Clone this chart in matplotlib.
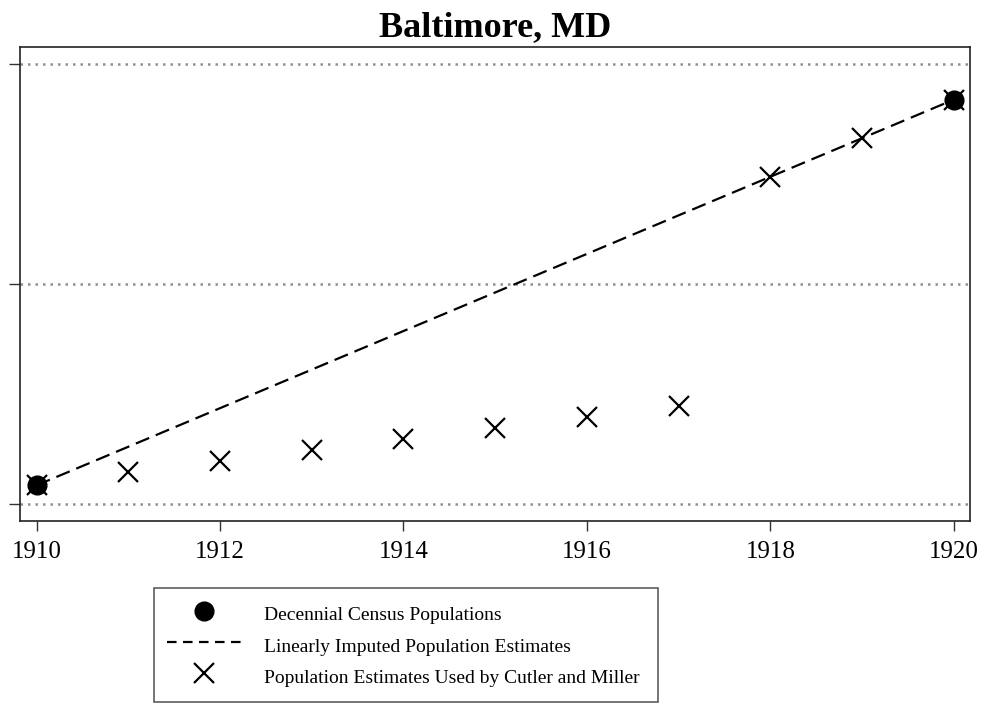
import matplotlib
matplotlib.use("Agg")
import matplotlib.pyplot as plt
from matplotlib.lines import Line2D

plt.rcParams['font.family'] = ['Liberation Serif', 'DejaVu Serif']

# census years and populations
census_years = [1910, 1920]
census_pop = [558485, 733826]

# Cutler & Miller estimates
cm_years = [1910, 1911, 1912, 1913, 1914, 1915, 1916, 1917, 1918, 1919, 1920]
cm_pop = [558485, 564400, 569700, 574700, 579600, 584500, 589700, 594700,
          698800, 716300, 733826]

x_ticks = [1910, 1912, 1914, 1916, 1918, 1920]
y_ticks = [550000, 650000, 750000]

fig = plt.figure(figsize=(9.84, 7.06), dpi=100)
ax = fig.add_axes([20/984, 1 - 521/706, 950/984, 474/706])

for y in y_ticks:
    ax.axhline(y, color="#909090", lw=1.8, ls=(0, (1.0, 2.0)), zorder=0)

ax.plot(census_years, census_pop, color="black", lw=1.6, dashes=(6.5, 3.2), zorder=2)
ax.plot(cm_years, cm_pop, ls="none", marker="x", ms=14, mew=1.6, color="black", zorder=3)
ax.plot(census_years, census_pop, ls="none", marker="o", ms=13.5, color="black", zorder=4)

ax.set_xlim(1909.82, 1920.175)
ax.set_ylim(542273, 757727)
ax.set_xticks(x_ticks)
ax.set_yticks(y_ticks)
ax.set_yticklabels([])
ax.tick_params(axis="both", direction="out", width=1, color="#333333")
ax.tick_params(axis="x", length=7.5, labelsize=18, pad=7)
ax.tick_params(axis="y", length=8)
for s in ax.spines.values():
    s.set_linewidth(1.2)
    s.set_color("#222222")

ax.set_title("Baltimore, MD", fontsize=26, fontweight="bold", pad=8)

handles = [
    Line2D([], [], ls="none", marker="o", ms=13.5, color="black"),
    Line2D([], [], color="black", lw=1.6, dashes=(4.3, 2.9)),
    Line2D([], [], ls="none", marker="x", ms=14, mew=1.6, color="black"),
]
labels = ["Decennial Census Populations",
          "Linearly Imputed Population Estimates",
          "Population Estimates Used by Cutler and Miller"]
leg = fig.legend(handles, labels, loc="upper left",
                 bbox_to_anchor=(154/984, 1 - 589/706, 504/984, 0.001),
                 mode="expand", fontsize=14,
                 frameon=True, fancybox=False, edgecolor="#333333",
                 handlelength=3.8, handletextpad=1.2, labelspacing=0.32,
                 handleheight=1.6, borderpad=0.68, borderaxespad=0)
leg.get_frame().set_linewidth(1.2)

fig.savefig("out.png", dpi=100)
